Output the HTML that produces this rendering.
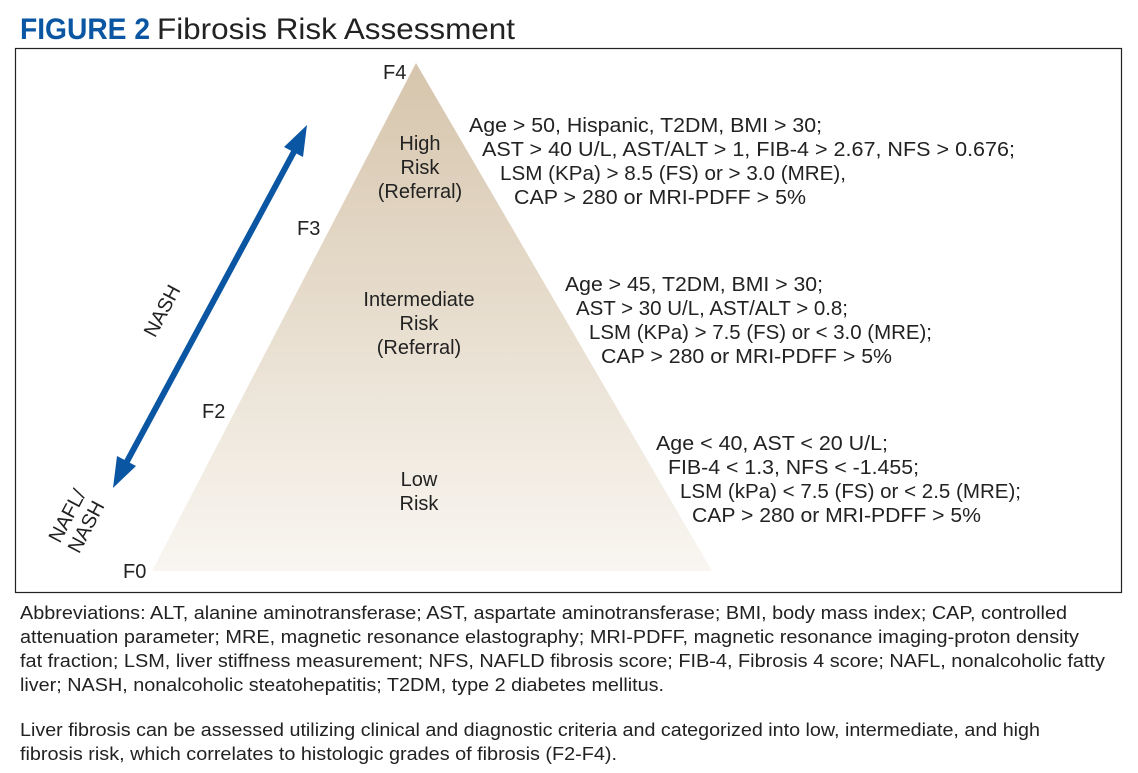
<!DOCTYPE html>
<html><head><meta charset="utf-8"><style>
body{margin:0;background:#fff;width:1138px;height:773px;overflow:hidden;font-family:"Liberation Sans",Arial,sans-serif;}
</style></head><body>
<svg width="1138" height="773" style="position:absolute;left:0;top:0" font-family="Liberation Sans, Arial, sans-serif">
<defs><linearGradient id="g" x1="0" y1="0" x2="0" y2="1"><stop offset="0" stop-color="#d6c5ac"/><stop offset="1" stop-color="#f9f6f1"/></linearGradient></defs>
<text x="20" y="39" font-size="30" font-weight="bold" fill="#0b56a3" textLength="130" lengthAdjust="spacingAndGlyphs">FIGURE 2</text>
<text x="157" y="39" font-size="30" fill="#222" textLength="358" lengthAdjust="spacingAndGlyphs">Fibrosis Risk Assessment</text>
<rect x="15.5" y="48.5" width="1106" height="544" fill="none" stroke="#222" stroke-width="1.2"/>
<polygon points="416,63 152,571 712,571" fill="url(#g)"/>
<g fill="#222" font-size="20">
<text x="383" y="79">F4</text>
<text x="297" y="235">F3</text>
<text x="202" y="418">F2</text>
<text x="123" y="578">F0</text>
<g text-anchor="middle">
<text x="420" y="150">High</text><text x="420" y="174">Risk</text><text x="420" y="198">(Referral)</text>
<text x="419" y="306">Intermediate</text><text x="419" y="330">Risk</text><text x="419" y="354">(Referral)</text>
<text x="419" y="486">Low</text><text x="419" y="510">Risk</text>
</g>
<text x="469" y="132" textLength="353" lengthAdjust="spacingAndGlyphs">Age &gt; 50, Hispanic, T2DM, BMI &gt; 30;</text>
<text x="482" y="156" textLength="533" lengthAdjust="spacingAndGlyphs">AST &gt; 40 U/L, AST/ALT &gt; 1,  FIB-4 &gt; 2.67, NFS &gt; 0.676;</text>
<text x="500" y="180" textLength="346" lengthAdjust="spacingAndGlyphs">LSM (KPa) &gt; 8.5 (FS) or &gt; 3.0 (MRE),</text>
<text x="514" y="204" textLength="292" lengthAdjust="spacingAndGlyphs">CAP &gt; 280 or MRI-PDFF &gt; 5%</text>
<text x="565" y="291" textLength="258" lengthAdjust="spacingAndGlyphs">Age &gt; 45, T2DM, BMI &gt; 30;</text>
<text x="576" y="315" textLength="272" lengthAdjust="spacingAndGlyphs">AST &gt; 30 U/L, AST/ALT &gt; 0.8;</text>
<text x="589" y="339" textLength="343" lengthAdjust="spacingAndGlyphs">LSM (KPa) &gt; 7.5 (FS) or &lt; 3.0 (MRE);</text>
<text x="601" y="363" textLength="291" lengthAdjust="spacingAndGlyphs">CAP &gt; 280 or MRI-PDFF &gt; 5%</text>
<text x="656" y="450" textLength="232" lengthAdjust="spacingAndGlyphs">Age &lt; 40, AST &lt; 20 U/L;</text>
<text x="668" y="474" textLength="251" lengthAdjust="spacingAndGlyphs">FIB-4 &lt; 1.3, NFS &lt; -1.455;</text>
<text x="680" y="498" textLength="341" lengthAdjust="spacingAndGlyphs">LSM (kPa) &lt; 7.5 (FS) or &lt; 2.5 (MRE);</text>
<text x="692" y="522" textLength="289" lengthAdjust="spacingAndGlyphs">CAP &gt; 280 or MRI-PDFF &gt; 5%</text>
<text transform="translate(168,314) rotate(-62)" text-anchor="middle">NASH</text>
<text transform="translate(73,519) rotate(-62)" text-anchor="middle">NAFL/</text>
<text transform="translate(92,530) rotate(-62)" text-anchor="middle">NASH</text>
</g>
<line x1="296" y1="148" x2="124" y2="467" stroke="#0b56a3" stroke-width="6"/>
<polygon points="307,125 303,157 284,147" fill="#0b56a3"/>
<polygon points="113,488 117,456 136,466" fill="#0b56a3"/>
<g fill="#222" font-size="18">
<text x="20" y="619" textLength="1047" lengthAdjust="spacingAndGlyphs">Abbreviations: ALT, alanine aminotransferase; AST, aspartate aminotransferase; BMI, body mass index; CAP, controlled</text>
<text x="20" y="643" textLength="1059" lengthAdjust="spacingAndGlyphs">attenuation parameter; MRE, magnetic resonance elastography; MRI-PDFF, magnetic resonance imaging-proton density</text>
<text x="20" y="667" textLength="1085" lengthAdjust="spacingAndGlyphs">fat fraction; LSM, liver stiffness measurement; NFS, NAFLD fibrosis score; FIB-4, Fibrosis 4 score; NAFL, nonalcoholic fatty</text>
<text x="20" y="691" textLength="644" lengthAdjust="spacingAndGlyphs">liver; NASH, nonalcoholic steatohepatitis; T2DM, type 2 diabetes mellitus.</text>
<text x="20" y="736" textLength="1020" lengthAdjust="spacingAndGlyphs">Liver fibrosis can be assessed utilizing clinical and diagnostic criteria and categorized into low, intermediate, and high</text>
<text x="20" y="760" textLength="597" lengthAdjust="spacingAndGlyphs">fibrosis risk, which correlates to histologic grades of fibrosis (F2-F4).</text>
</g>
</svg>
</body></html>
